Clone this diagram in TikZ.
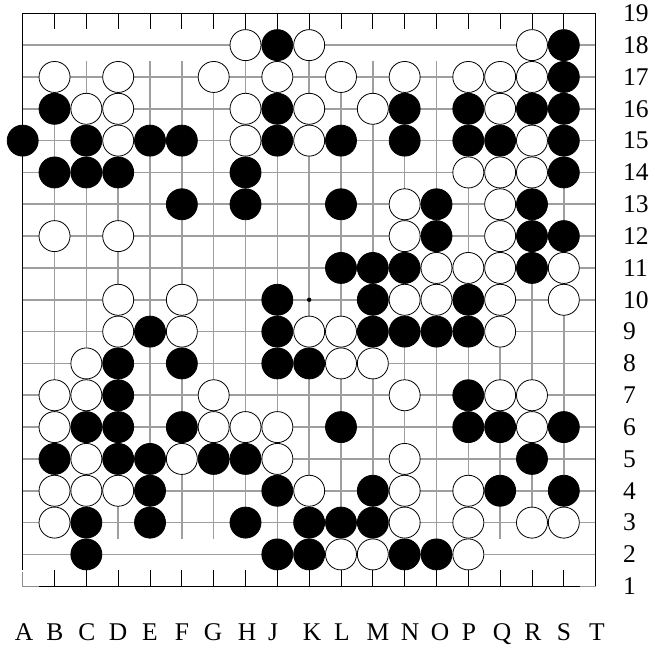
\documentclass[tikz,border=0pt]{standalone}
\usepackage{fontspec}
\setmainfont{Liberation Serif}
\begin{document}
\begin{tikzpicture}[x=1pt,y=-1pt,
  bstone/.style={circle,fill=black,draw=black,line width=0.8pt,minimum size=31pt,inner sep=0pt},
  wstone/.style={circle,fill=white,draw=black,line width=0.8pt,minimum size=31pt,inner sep=0pt},
  gridline/.style={draw=black!38,line width=1.6pt},
  edgeline/.style={draw=black,line width=0.9pt},
  lbl/.style={font=\fontsize{25.5}{25.5}\selectfont,inner sep=0pt}]
\useasboundingbox (0,0) rectangle (654,648);
% grid coordinates
\foreach \c [count=\i from 0] in {A,B,C,D,E,F,G,H,J,K,L,M,N,O,P,Q,R,S,T}{
  \foreach \r in {1,...,19}{
    \coordinate (\c\r) at ({22.7+31.83*\i},{13.3+31.83*(19-\r)});
  }
}
% gray interior lines
\foreach \r in {2,...,18}{ \draw[gridline] (A\r) -- (T\r); }
\foreach \c in {B,C,D,E,F,G,H,J,K,L,M,N,O,P,Q,R,S}{
  \draw[gridline] ([yshift=-15.9pt]\c18) -- ([yshift=15.9pt]\c2);
  \draw[edgeline] (\c19) -- ([yshift=-15.9pt]\c19);
  \draw[edgeline] (\c1) -- ([yshift=15.9pt]\c1);
}
% border
\draw[edgeline] (A19) -- (T19) -- (T1) -- ([xshift=-15.9pt]T1);
\draw[edgeline] (A19) -- ([yshift=15.9pt]A1);
\draw[edgeline] ([xshift=15.9pt]A1) -- ([xshift=-15.9pt]T1);
% corner pieces (drawn grey in the original)
\draw[draw=black!45,line width=1.2pt] ([yshift=14.5pt]A1) -- (A1) -- ([xshift=15.9pt]A1);
\draw[draw=black!40,line width=1.4pt] ([xshift=-15.9pt]T1) -- (T1);
% hoshi
\fill (K10) circle (2.2pt);
% black stones
\foreach \p in {J18,S18,S17,B16,J16,N16,P16,R16,S16,
  A15,C15,E15,F15,J15,L15,N15,P15,Q15,S15,
  B14,C14,D14,H14,S14,F13,H13,L13,O13,R13,O12,R12,S12,
  L11,M11,N11,R11,J10,M10,P10,E9,J9,M9,N9,O9,P9,
  D8,F8,J8,K8,D7,P7,C6,D6,F6,L6,P6,Q6,S6,
  B5,D5,E5,G5,H5,R5,E4,J4,M4,Q4,S4,
  C3,E3,H3,K3,L3,M3,C2,J2,K2,N2,O2}{
  \node[bstone] (s\p) at (\p) {};
}
% white stones
\foreach \p in {H18,K18,R18,B17,D17,G17,J17,L17,N17,P17,Q17,R17,
  C16,D16,H16,K16,M16,Q16,D15,H15,K15,R15,P14,Q14,R14,N13,Q13,
  B12,D12,N12,Q12,O11,P11,Q11,S11,D10,F10,N10,O10,Q10,S10,
  D9,F9,K9,L9,Q9,C8,L8,M8,B7,C7,G7,N7,Q7,R7,
  B6,G6,H6,J6,R6,C5,F5,J5,N5,B4,C4,D4,K4,N4,P4,
  B3,N3,P3,R3,S3,L2,M2,P2}{
  \node[wstone] (s\p) at (\p) {};
}
% row labels
\foreach \r in {1,...,19}{
  \node[lbl,anchor=west] (row\r) at (T\r -| 623,0) {\r};
}
% column labels
\foreach \c/\x in {A/24,B/55,C/87,D/118,E/150,F/182,G/213,H/247,J/273,K/312,
  L/342,M/378,N/410,O/440,P/469,Q/502,R/533,S/564,T/597}{
  \node[lbl,anchor=base] (col\c) at (\x,640) {\c};
}
\end{tikzpicture}
\end{document}
